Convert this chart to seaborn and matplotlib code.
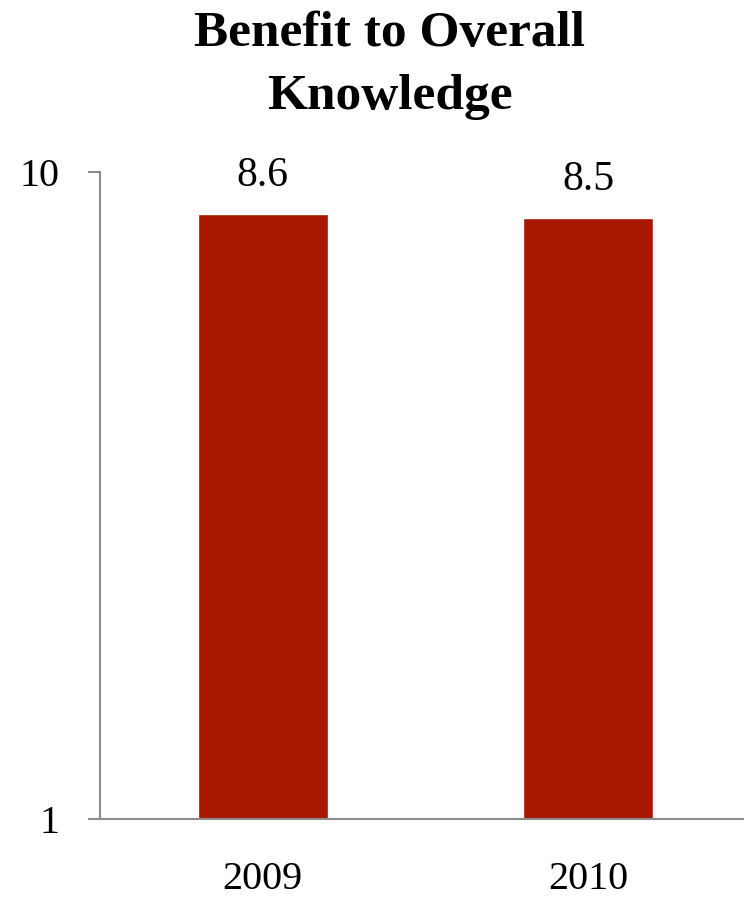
import matplotlib
matplotlib.use("Agg")
import matplotlib.pyplot as plt
import seaborn as sns
import pandas as pd

years = ["2009", "2010"]
scores = [8.6, 8.5]
y_ticks = [1, 10]
y_tick_labels = ["1", "10"]
title = "Benefit to Overall\nKnowledge"

sns.set_style("white")
plt.rcParams["font.family"] = ["Liberation Serif", "DejaVu Serif"]
plt.rcParams["text.color"] = "black"
plt.rcParams["xtick.color"] = "black"
plt.rcParams["ytick.color"] = "black"

df = pd.DataFrame({"year": years, "score": scores})

fig = plt.figure(figsize=(7.44, 8.99), dpi=100)
ax = fig.add_axes([100 / 744, 80 / 899, 651 / 744, 647 / 899])

sns.barplot(data=df, x="year", y="score", color="#a81800", width=0.4,
            saturation=1, ax=ax)
ax.set_yscale("log")
ax.set_ylim(1, 10)
ax.set_xlim(-0.5, 1.5)
ax.set_yticks(y_ticks)
ax.set_yticklabels(y_tick_labels)
ax.yaxis.set_minor_locator(matplotlib.ticker.NullLocator())
ax.set_xlabel("")
ax.set_ylabel("")

for s in ["top", "right"]:
    ax.spines[s].set_visible(False)
for s in ["left", "bottom"]:
    ax.spines[s].set_color("#8c8c8c")
    ax.spines[s].set_linewidth(1.5)

ax.tick_params(axis="y", direction="out", length=9, width=1.5, color="#8c8c8c",
               labelcolor="black", labelsize=29, pad=20, left=True)
ax.tick_params(axis="x", length=0, labelsize=29, labelcolor="black", pad=30)

for i, v in enumerate(scores):
    ax.text(i, v * 1.07, f"{v:.1f}", ha="center", va="bottom", fontsize=30,
            color="black")

fig.suptitle(title, fontsize=37, fontweight="bold", y=0.988, va="top",
             x=390 / 744, linespacing=1.5, color="black")

fig.savefig("out.png", dpi=100)
